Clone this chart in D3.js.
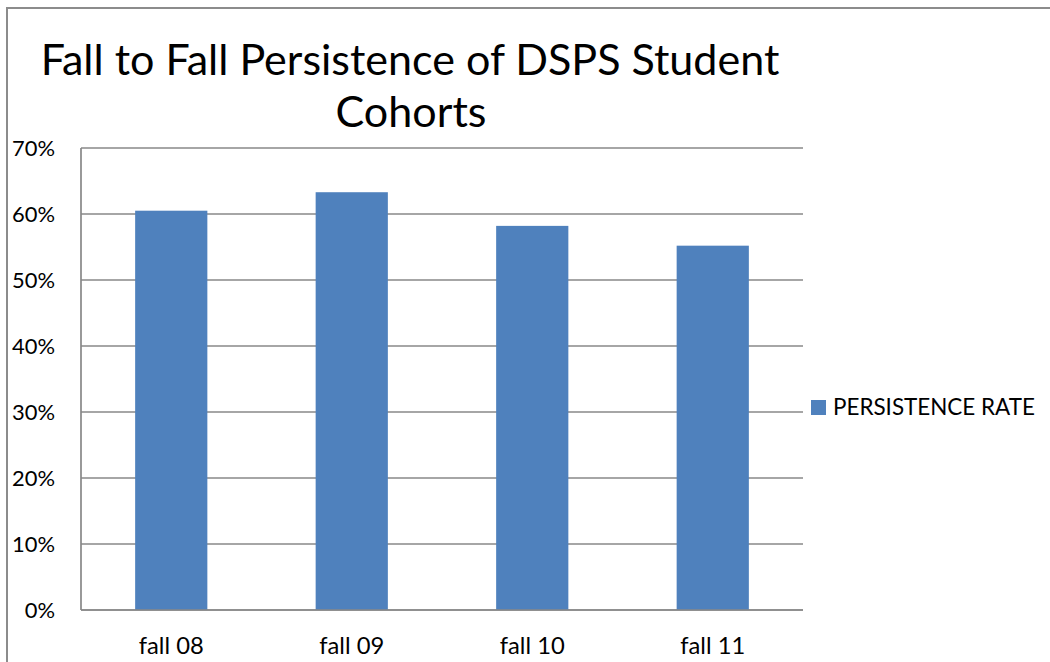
<!DOCTYPE html>
<html>
<head>
<meta charset="utf-8">
<script src="https://cdn.jsdelivr.net/npm/d3@7"></script>
<style>
  html, body { margin: 0; padding: 0; background: #fff; }
  svg { display: block; }
  text { font-family: Lato, "Open Sans", sans-serif; fill: #000; }
</style>
</head>
<body>
<script>
const categories = ["fall 08", "fall 09", "fall 10", "fall 11"];
const persistenceRate = [0.605, 0.633, 0.582, 0.552];
const yTicks = [0, 0.1, 0.2, 0.3, 0.4, 0.5, 0.6, 0.7];
const titleLines = ["Fall to Fall Persistence of DSPS Student", "Cohorts"];
const seriesName = "PERSISTENCE RATE";

const W = 1050, H = 662;
const svg = d3.select("body").append("svg").attr("width", W).attr("height", H);

// outer chart border
svg.append("rect").attr("x", 7).attr("y", 8).attr("width", W + 20).attr("height", H + 20)
  .attr("fill", "none").attr("stroke", "#8c8c8c").attr("stroke-width", 2);

const plot = { left: 81, right: 803, top: 148, bottom: 610 };
const x = d3.scaleBand().domain(categories).range([plot.left, plot.right])
  .paddingInner(0.6).paddingOuter(0.3);
const y = d3.scaleLinear().domain([0, 0.7]).range([plot.bottom, plot.top]);

// helper to fit text to a target width
function fit(sel, width) {
  const base = 100;
  sel.style("font-size", base + "px");
  const w = sel.node().getComputedTextLength();
  const fs = base * width / w;
  sel.style("font-size", fs + "px");
  return fs;
}

// gridlines
svg.append("g").selectAll("line").data(yTicks).join("line")
  .attr("x1", plot.left).attr("x2", plot.right)
  .attr("y1", d => y(d)).attr("y2", d => y(d))
  .attr("stroke", "#888").attr("stroke-width", 1.7);

// bars
svg.append("g").selectAll("rect").data(persistenceRate).join("rect")
  .attr("x", (d, i) => x(categories[i]))
  .attr("width", x.bandwidth())
  .attr("y", d => y(d))
  .attr("height", d => y(0) - y(d))
  .attr("fill", "#4f81bd");

// axis lines
svg.append("line").attr("x1", plot.left).attr("x2", plot.left)
  .attr("y1", plot.top).attr("y2", plot.bottom).attr("stroke", "#888").attr("stroke-width", 1.7);
svg.append("line").attr("x1", plot.left).attr("x2", plot.right)
  .attr("y1", plot.bottom).attr("y2", plot.bottom).attr("stroke", "#888").attr("stroke-width", 1.7);

// y tick labels
const yFmt = d3.format(".0%");
const probe = svg.append("text").text("70%");
const yFs = fit(probe, 43);
probe.remove();
svg.append("g").selectAll("text").data(yTicks).join("text")
  .attr("x", 55).attr("y", d => y(d) + 8)
  .attr("text-anchor", "end")
  .style("font-size", yFs + "px")
  .text(d => yFmt(d));

// x tick labels
const probeX = svg.append("text").text(categories[0]);
const xFs = fit(probeX, 65);
probeX.remove();
svg.append("g").selectAll("text").data(categories).join("text")
  .attr("x", d => x(d) + x.bandwidth() / 2).attr("y", 654)
  .attr("text-anchor", "middle")
  .style("font-size", xFs + "px")
  .text(d => d);

// title
const t1 = svg.append("text").attr("x", 410).attr("y", 75).attr("text-anchor", "middle").text(titleLines[0]);
const tFs = fit(t1, 739);
svg.append("text").attr("x", 411).attr("y", 127).attr("text-anchor", "middle")
  .style("font-size", tFs + "px").text(titleLines[1]);

// legend
svg.append("rect").attr("x", 811).attr("y", 400).attr("width", 15).attr("height", 15).attr("fill", "#4f81bd");
const lt = svg.append("text").attr("x", 833).attr("y", 415).text(seriesName);
fit(lt, 202);
</script>
</body>
</html>
